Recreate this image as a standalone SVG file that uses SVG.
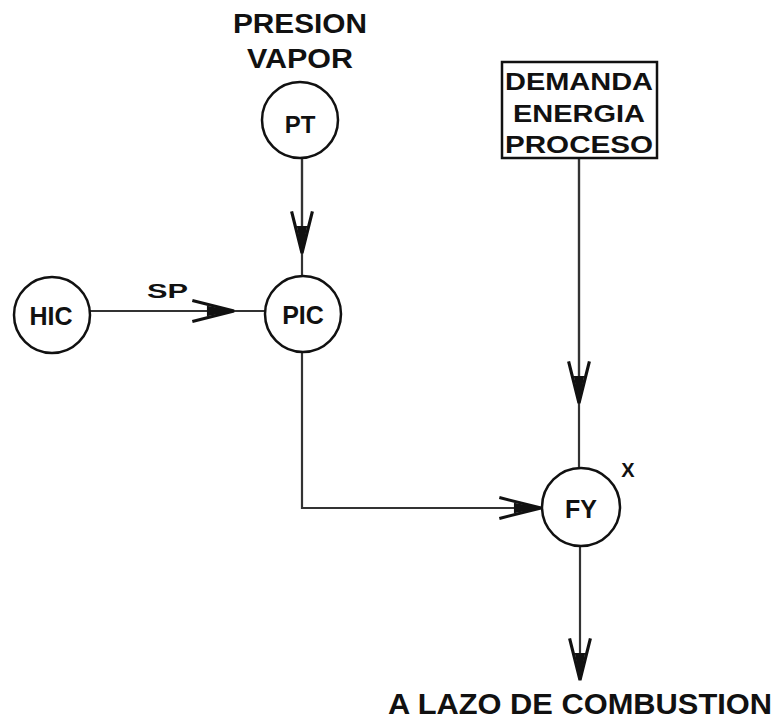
<svg xmlns="http://www.w3.org/2000/svg" width="778" height="722" viewBox="0 0 778 722">
<defs>
<marker id="chev" markerUnits="userSpaceOnUse" markerWidth="50" markerHeight="30" refX="0" refY="0" viewBox="-44 -14 48 28" orient="auto" overflow="visible">
<path d="M-40,-10 L0,0 L-40,10" fill="none" stroke="#111" stroke-width="3"/>
<path d="M-26,-5 L0,0 L-26,5 Z" fill="#111"/>
</marker>
</defs>
<style>
.n{fill:#fff;stroke:#111;stroke-width:2.5}
.t{font-family:"Liberation Sans",Arial,sans-serif;font-weight:bold;fill:#111}
.c{fill:none;stroke:#333;stroke-width:2.2}
</style>
<rect width="778" height="722" fill="#fff"/>
<g id="connectors">
<line class="c" x1="302" y1="158" x2="302" y2="276"/>
<line class="c" x1="302" y1="158" x2="302" y2="253" marker-end="url(#chev)"/>
<line class="c" x1="90" y1="311" x2="265" y2="311"/>
<line class="c" x1="90" y1="311" x2="234" y2="311" marker-end="url(#chev)"/>
<polyline class="c" points="302,352 302,508 542,508"/>
<line class="c" x1="302" y1="508" x2="541" y2="508" marker-end="url(#chev)"/>
<line class="c" x1="579" y1="158" x2="579" y2="468"/>
<line class="c" x1="579" y1="158" x2="579" y2="403" marker-end="url(#chev)"/>
<line class="c" x1="580" y1="546" x2="580" y2="680" marker-end="url(#chev)"/>
<text class="t" x="147" y="298" font-size="21" textLength="41" lengthAdjust="spacingAndGlyphs">SP</text>
</g>
<g id="pt-label">
<text class="t" x="300" y="33" font-size="27" text-anchor="middle" textLength="134" lengthAdjust="spacingAndGlyphs">PRESION</text>
<text class="t" x="300" y="68" font-size="27" text-anchor="middle" textLength="106" lengthAdjust="spacingAndGlyphs">VAPOR</text>
</g>
<g id="PT">
<circle class="n" cx="300" cy="120" r="38"/>
<text class="t" x="300" y="133" font-size="24" text-anchor="middle">PT</text>
</g>
<g id="HIC">
<circle class="n" cx="52" cy="315" r="38"/>
<text class="t" x="51" y="325" font-size="25" text-anchor="middle">HIC</text>
</g>
<g id="PIC">
<circle class="n" cx="303" cy="314" r="38"/>
<text class="t" x="303" y="324" font-size="25" text-anchor="middle">PIC</text>
</g>
<g id="demanda">
<rect class="n" x="502" y="62" width="155" height="96"/>
<text class="t" x="579" y="90" font-size="24" text-anchor="middle" textLength="148" lengthAdjust="spacingAndGlyphs">DEMANDA</text>
<text class="t" x="579" y="122" font-size="24" text-anchor="middle" textLength="132" lengthAdjust="spacingAndGlyphs">ENERGIA</text>
<text class="t" x="579" y="153" font-size="24" text-anchor="middle" textLength="148" lengthAdjust="spacingAndGlyphs">PROCESO</text>
</g>
<g id="FY">
<circle class="n" cx="581" cy="507" r="39"/>
<text class="t" x="581" y="518" font-size="25" text-anchor="middle">FY</text>
<text class="t" x="628" y="477" font-size="20" text-anchor="middle">X</text>
</g>
<g id="salida">
<text class="t" x="580" y="714" font-size="29" text-anchor="middle" textLength="384" lengthAdjust="spacingAndGlyphs">A LAZO DE COMBUSTION</text>
</g>
</svg>
